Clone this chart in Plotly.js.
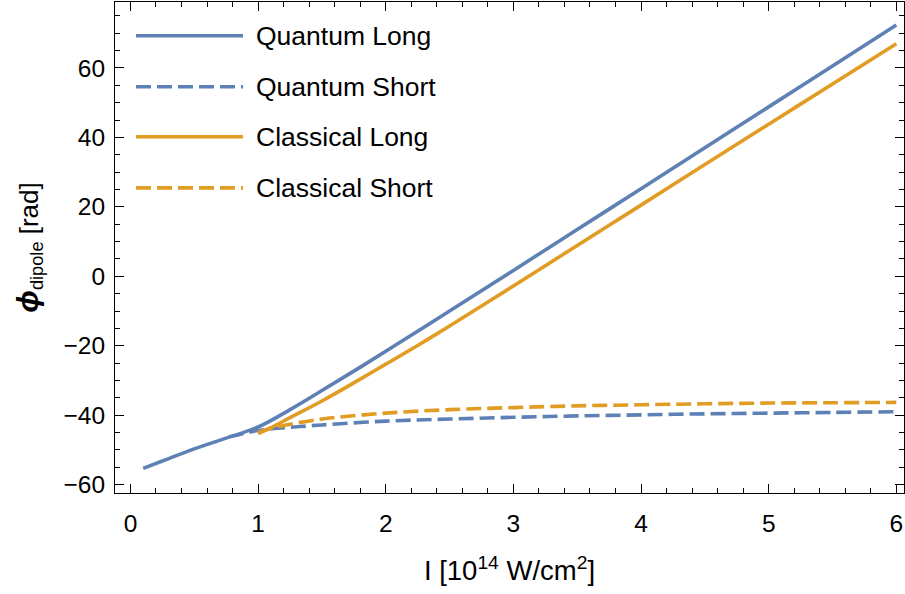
<!DOCTYPE html>
<html><head><meta charset="utf-8">
<script src="https://cdn.plot.ly/plotly-3.0.1.min.js"></script>
<style>html,body{margin:0;padding:0;background:#fff}</style>
</head><body>
<div id="chart" style="width:905px;height:594px"></div>
<script>
const seriesNames = ["Quantum Long", "Quantum Short", "Classical Long", "Classical Short"];

const qLongX = [0.1, 0.25, 0.5, 0.75, 1, 1.25, 1.5, 1.75, 2, 2.5, 3, 3.5, 4, 4.5, 5, 5.5, 6];
const qLongY = [-55.3, -53.2, -49.7, -46.6, -43.4, -38.4, -32.9, -27.3, -21.6, -10.0, 1.7, 13.5, 25.2, 37.0, 48.8, 60.6, 72.4];

const qShortX = [0.77, 1, 1.25, 1.5, 2, 2.5, 3, 3.5, 4, 4.5, 5, 5.5, 6];
const qShortY = [-46.3, -44.4, -43.5, -42.8, -41.7, -41.1, -40.6, -40.2, -39.9, -39.6, -39.4, -39.2, -39.0];

const cLongX = [1, 1.1, 1.25, 1.5, 1.75, 2, 2.25, 2.5, 3, 3.5, 4, 4.5, 5, 5.5, 6];
const cLongY = [-45.3, -43.6, -40.7, -35.9, -30.7, -25.3, -19.9, -14.3, -2.8, 8.9, 20.5, 32.2, 43.8, 55.4, 67.0];

const cShortX = [1, 1.1, 1.25, 1.5, 2, 2.5, 3, 3.5, 4, 4.5, 5, 5.5, 6];
const cShortY = [-44.9, -43.8, -42.6, -41.1, -39.4, -38.4, -37.8, -37.3, -37.0, -36.7, -36.5, -36.4, -36.3];

const xTickVals = [0, 1, 2, 3, 4, 5, 6];
const yTickVals = [-60, -40, -20, 0, 20, 40, 60];
const yTickText = ["\u221260", "\u221240", "\u221220", "0", "20", "40", "60"];

const BLUE = "#5e81b5", ORANGE = "#e19c24";
const DASH = "15px,6px";
const FONT = "Liberation Sans, Arial, Helvetica, sans-serif";
const LW = 3.6;

const traces = [
  {x: qLongX, y: qLongY, name: seriesNames[0], mode: "lines", line: {color: BLUE, width: LW, shape: "spline"}},
  {x: qShortX, y: qShortY, name: seriesNames[1], mode: "lines", line: {color: BLUE, width: LW, dash: DASH, shape: "spline"}},
  {x: cLongX, y: cLongY, name: seriesNames[2], mode: "lines", line: {color: ORANGE, width: LW, shape: "spline"}},
  {x: cShortX, y: cShortY, name: seriesNames[3], mode: "lines", line: {color: ORANGE, width: LW, dash: DASH, shape: "spline"}}
];

// Custom legend (long sample lines as in the reference)
const legColors = [BLUE, BLUE, ORANGE, ORANGE];
const legDash = ["solid", DASH, "solid", DASH];
const legY = [0.9313, 0.8274, 0.7255, 0.6215];
const shapes = [], annotations = [];
for (let i = 0; i < seriesNames.length; i++) {
  shapes.push({type: "line", xref: "paper", yref: "paper", x0: 0.0266, x1: 0.1622, y0: legY[i], y1: legY[i],
    line: {color: legColors[i], width: LW, dash: legDash[i]}});
  annotations.push({xref: "paper", yref: "paper", x: 0.176, y: legY[i], xanchor: "left", yanchor: "middle",
    text: seriesNames[i], showarrow: false, font: {family: FONT, size: 26.5, color: "#000"}});
}

const axisCommon = {
  showline: true, linecolor: "#000", linewidth: 1, mirror: "allticks",
  ticks: "inside", ticklen: 9, tickwidth: 1, tickcolor: "#000",
  showgrid: false, zeroline: false,
  tickfont: {family: FONT, size: 24.5, color: "#000"}
};

const layout = {
  width: 905, height: 594,
  margin: {l: 115, r: 1, t: 2, b: 101},
  paper_bgcolor: "#fff", plot_bgcolor: "#fff",
  showlegend: false,
  xaxis: Object.assign({}, axisCommon, {
    range: [-0.121, 6.06], tickvals: xTickVals, ticklabelstandoff: 9,
    minor: {dtick: 0.2, tick0: 0, ticks: "inside", ticklen: 5, tickcolor: "#000", showgrid: false},
    title: {text: "I [10<sup>14</sup> W/cm<sup>2</sup>]", font: {family: FONT, size: 27.5, color: "#000"}, standoff: 24}
  }),
  yaxis: Object.assign({}, axisCommon, {
    range: [-62.4, 79.0], tickvals: yTickVals, ticktext: yTickText, ticklabelstandoff: 4,
    minor: {dtick: 5, tick0: 0, ticks: "inside", ticklen: 5, tickcolor: "#000", showgrid: false},
    title: {text: "<span style='font-size:30px'><b><i>\u03d5</i></b></span><sub>dipole</sub> [rad]", font: {family: FONT, size: 26, color: "#000"}, standoff: 17}
  }),
  shapes: shapes,
  annotations: annotations
};

Plotly.newPlot("chart", traces, layout, {displayModeBar: false, staticPlot: true});
</script>
</body></html>
